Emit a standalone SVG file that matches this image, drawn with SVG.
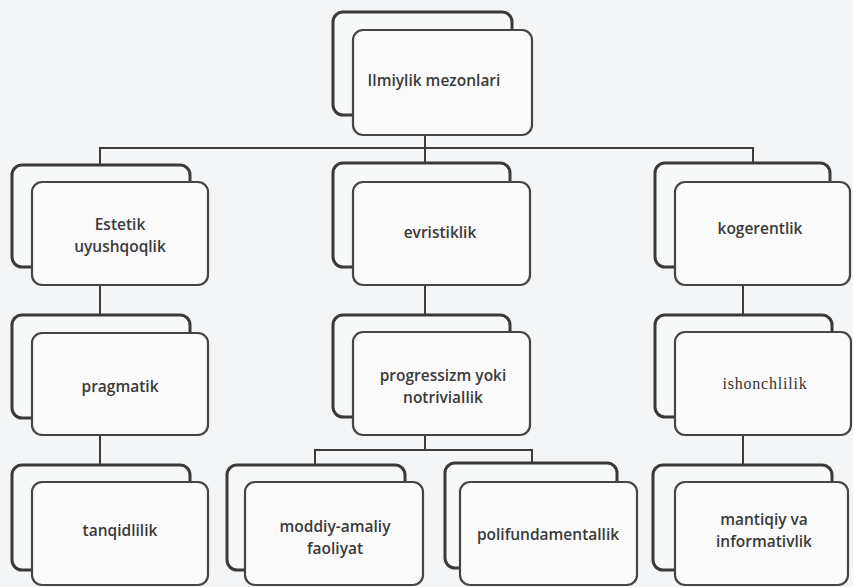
<svg xmlns="http://www.w3.org/2000/svg" width="853" height="587" viewBox="0 0 853 587">
<style>
.bg{fill:#f3f5f6}
.back{fill:#f7f8f8;stroke:#3a3a3a;stroke-width:3}
.front{fill:#fbfbfb;stroke:#454545;stroke-width:2.2}
.lbl{font-family:"Open Sans","Liberation Sans",sans-serif;font-size:15.5px;font-weight:600;fill:#3a3a3a;text-anchor:middle}
.ser{font-family:"Liberation Serif",serif;font-size:16px;font-weight:400;letter-spacing:0.8px;fill:#333;text-anchor:middle}
.con{fill:none;stroke:#3c3c3c;stroke-width:2}
</style>
<rect class="bg" x="0" y="0" width="853" height="587"/>
<g id="connectors">
<path class="con" d="M425 135V148"/>
<path class="con" d="M100 165V148H753V163"/>
<path class="con" d="M425 148V163"/>
<path class="con" d="M100 285V315"/>
<path class="con" d="M100 435V465"/>
<path class="con" d="M425 285V315"/>
<path class="con" d="M425 435V450"/>
<path class="con" d="M315 465V450H532V463"/>
<path class="con" d="M743 285V315"/>
<path class="con" d="M743 435V465"/>
</g>
<g id="ilmiylik">
<rect class="back" x="333" y="12" width="179" height="103" rx="10"/>
<rect class="front" x="353" y="30" width="179" height="105" rx="10"/>
<text class="lbl" x="434" y="86">Ilmiylik mezonlari</text>
</g>
<g id="estetik">
<rect class="back" x="12" y="165" width="178" height="102" rx="10"/>
<rect class="front" x="32" y="182" width="176" height="103" rx="10"/>
<text class="lbl" x="120" y="230">Estetik</text>
<text class="lbl" x="120" y="252">uyushqoqlik</text>
</g>
<g id="evristiklik">
<rect class="back" x="333" y="163" width="177" height="104" rx="10"/>
<rect class="front" x="353" y="182" width="177" height="103" rx="10"/>
<text class="lbl" x="440" y="238">evristiklik</text>
</g>
<g id="kogerentlik">
<rect class="back" x="655" y="163" width="175" height="104" rx="10"/>
<rect class="front" x="675" y="182" width="175" height="103" rx="10"/>
<text class="lbl" x="760" y="234">kogerentlik</text>
</g>
<g id="pragmatik">
<rect class="back" x="12" y="315" width="178" height="103" rx="10"/>
<rect class="front" x="32" y="333" width="176" height="102" rx="10"/>
<text class="lbl" x="120" y="392">pragmatik</text>
</g>
<g id="progressizm">
<rect class="back" x="333" y="315" width="177" height="102" rx="10"/>
<rect class="front" x="353" y="332" width="177" height="103" rx="10"/>
<text class="lbl" x="443" y="381">progressizm yoki</text>
<text class="lbl" x="443" y="403">notriviallik</text>
</g>
<g id="ishonchlilik">
<rect class="back" x="655" y="315" width="177" height="102" rx="10"/>
<rect class="front" x="675" y="332" width="176" height="103" rx="10"/>
<text class="ser" x="765" y="389">ishonchlilik</text>
</g>
<g id="tanqidlilik">
<rect class="back" x="12" y="465" width="178" height="105" rx="10"/>
<rect class="front" x="32" y="482" width="176" height="103" rx="10"/>
<text class="lbl" x="120" y="536">tanqidlilik</text>
</g>
<g id="moddiy">
<rect class="back" x="227" y="465" width="178" height="105" rx="10"/>
<rect class="front" x="245" y="482" width="178" height="103" rx="10"/>
<text class="lbl" x="335" y="532">moddiy-amaliy</text>
<text class="lbl" x="335" y="554">faoliyat</text>
</g>
<g id="polifundamentallik">
<rect class="back" x="445" y="463" width="172" height="105" rx="10"/>
<rect class="front" x="460" y="482" width="177" height="103" rx="10"/>
<text class="lbl" x="548" y="540">polifundamentallik</text>
</g>
<g id="mantiqiy">
<rect class="back" x="653" y="465" width="179" height="105" rx="10"/>
<rect class="front" x="675" y="482" width="173" height="103" rx="10"/>
<text class="lbl" x="764" y="525">mantiqiy va</text>
<text class="lbl" x="764" y="547">informativlik</text>
</g>
</svg>
